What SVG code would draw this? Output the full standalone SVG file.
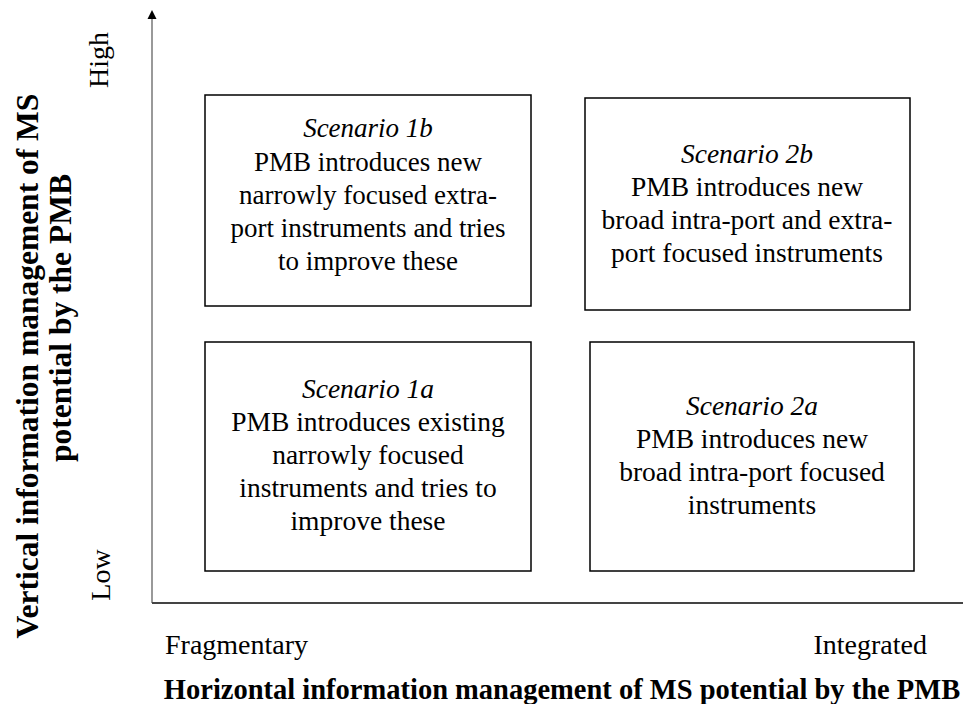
<svg xmlns="http://www.w3.org/2000/svg" width="963" height="704" viewBox="0 0 963 704">
<rect width="963" height="704" fill="#fff"/>
<g id="axes">
<line x1="152" y1="603" x2="152" y2="17" stroke="#999" stroke-width="2"/>
<polygon points="152,10 147.5,19 156.5,19" fill="#000"/>
<line x1="152" y1="603" x2="963" y2="603" stroke="#444" stroke-width="2"/>
</g>
<g id="s1b">
<rect x="205" y="95" width="326" height="211" fill="#fff" stroke="#000" stroke-width="1.5"/>
<text x="368" y="137" font-family="Liberation Serif" font-size="27" font-style="italic" text-anchor="middle">Scenario 1b</text>
<text x="368" y="171" font-family="Liberation Serif" font-size="27" text-anchor="middle">PMB introduces new</text>
<text x="368" y="204" font-family="Liberation Serif" font-size="27" text-anchor="middle">narrowly focused extra-</text>
<text x="368" y="237" font-family="Liberation Serif" font-size="27" text-anchor="middle">port instruments and tries</text>
<text x="368" y="270" font-family="Liberation Serif" font-size="27" text-anchor="middle">to improve these</text>
</g>
<g id="s2b">
<rect x="585" y="98" width="325" height="212" fill="#fff" stroke="#000" stroke-width="1.5"/>
<text x="747" y="163" font-family="Times New Roman" font-size="27.5" font-style="italic" text-anchor="middle">Scenario 2b</text>
<text x="747" y="196" font-family="Times New Roman" font-size="27.5" text-anchor="middle">PMB introduces new</text>
<text x="747" y="229" font-family="Times New Roman" font-size="27.5" text-anchor="middle">broad intra-port and extra-</text>
<text x="747" y="262" font-family="Times New Roman" font-size="27.5" text-anchor="middle">port focused instruments</text>
</g>
<g id="s1a">
<rect x="205" y="342" width="326" height="229" fill="#fff" stroke="#000" stroke-width="1.5"/>
<text x="368" y="398" font-family="serif" font-size="27.5" font-style="italic" text-anchor="middle">Scenario 1a</text>
<text x="368" y="431" font-family="serif" font-size="27.5" text-anchor="middle">PMB introduces existing</text>
<text x="368" y="464" font-family="serif" font-size="27.5" text-anchor="middle">narrowly focused</text>
<text x="368" y="497" font-family="serif" font-size="27.5" text-anchor="middle">instruments and tries to</text>
<text x="368" y="530" font-family="serif" font-size="27.5" text-anchor="middle">improve these</text>
</g>
<g id="s2a">
<rect x="590" y="342" width="324" height="229" fill="#fff" stroke="#000" stroke-width="1.5"/>
<text x="752" y="415" font-family="Liberation Serif" font-size="27.5" font-style="italic" text-anchor="middle">Scenario 2a</text>
<text x="752" y="448" font-family="Liberation Serif" font-size="27.5" text-anchor="middle">PMB introduces new</text>
<text x="752" y="481" font-family="Liberation Serif" font-size="27.5" text-anchor="middle">broad intra-port focused</text>
<text x="752" y="514" font-family="Liberation Serif" font-size="27.5" text-anchor="middle">instruments</text>
</g>
<g id="labels">
<text x="165" y="654" font-family="Liberation Serif" font-size="28">Fragmentary</text>
<text x="927" y="654" font-family="Liberation Serif" font-size="28" text-anchor="end">Integrated</text>
<text x="562" y="699" font-family="Liberation Serif" font-size="28.5" font-weight="bold" text-anchor="middle">Horizontal information management of MS potential by the PMB</text>
<text transform="translate(38,366) rotate(-90)" font-family="Liberation Serif" font-size="31.5" font-weight="bold" text-anchor="middle">Vertical information management of MS</text>
<text transform="translate(71,318) rotate(-90)" font-family="Liberation Serif" font-size="31.5" font-weight="bold" text-anchor="middle">potential by the PMB</text>
<text transform="translate(108,60) rotate(-90)" font-family="Liberation Serif" font-size="28" text-anchor="middle">High</text>
<text transform="translate(110,575) rotate(-90)" font-family="Liberation Serif" font-size="28" text-anchor="middle">Low</text>
</g>
</svg>
